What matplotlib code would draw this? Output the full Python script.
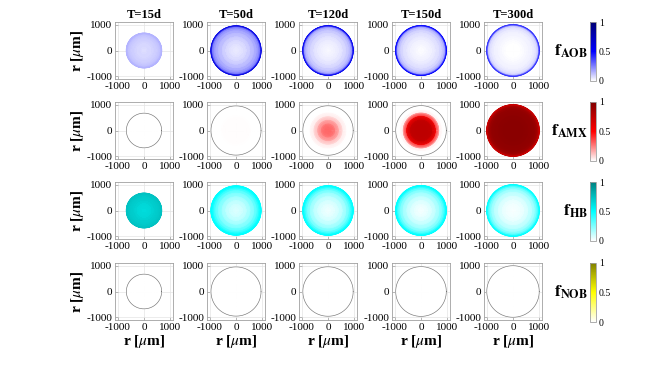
import matplotlib
matplotlib.use("Agg")
import matplotlib.pyplot as plt
from matplotlib.colors import LinearSegmentedColormap
import numpy as np

plt.rcParams['font.family'] = ['Liberation Serif', 'DejaVu Serif']
plt.rcParams['mathtext.fontset'] = 'stix'
plt.rcParams['axes.unicode_minus'] = False

# columns: simulation times
times = ["T=15d", "T=50d", "T=120d", "T=150d", "T=300d"]
# biofilm radius (um) at each time
radius = [670, 950, 955, 960, 995]
# radial sample nodes as fraction of the biofilm radius
r_frac = [0, 0.15, 0.3, 0.45, 0.6, 0.75, 0.85, 0.92, 0.97, 1.0]

# volume fraction profiles along r_frac, one list per time
f_aob = [
    [0.07, 0.07, 0.08, 0.08, 0.09, 0.10, 0.11, 0.12, 0.13, 0.15],
    [0.04, 0.05, 0.06, 0.08, 0.11, 0.15, 0.18, 0.22, 0.28, 0.60],
    [0.01, 0.02, 0.03, 0.04, 0.06, 0.09, 0.12, 0.16, 0.24, 0.55],
    [0.01, 0.01, 0.02, 0.03, 0.05, 0.07, 0.10, 0.14, 0.21, 0.50],
    [0.00, 0.00, 0.00, 0.01, 0.02, 0.03, 0.05, 0.07, 0.13, 0.42],
]
f_amx = [
    [0, 0, 0, 0, 0, 0, 0, 0, 0, 0],
    [0.005, 0.005, 0.005, 0.004, 0.003, 0.002, 0.001, 0, 0, 0],
    [0.30, 0.29, 0.24, 0.14, 0.04, 0, 0, 0, 0, 0],
    [0.76, 0.76, 0.75, 0.72, 0.48, 0.03, 0, 0, 0, 0],
    [0.96, 0.96, 0.96, 0.95, 0.94, 0.93, 0.91, 0.87, 0.80, 0.70],
]
f_hb = [
    [0.64, 0.64, 0.65, 0.66, 0.68, 0.70, 0.71, 0.72, 0.73, 0.74],
    [0.07, 0.08, 0.10, 0.14, 0.20, 0.28, 0.35, 0.42, 0.48, 0.50],
    [0.03, 0.04, 0.06, 0.09, 0.14, 0.22, 0.30, 0.38, 0.46, 0.50],
    [0.02, 0.03, 0.05, 0.08, 0.13, 0.20, 0.28, 0.36, 0.45, 0.50],
    [0.01, 0.02, 0.03, 0.05, 0.09, 0.15, 0.22, 0.30, 0.40, 0.50],
]
f_nob = [[0] * 10 for _ in range(5)]

species = [r'$\mathbf{f}_{\mathbf{AOB}}$', r'$\mathbf{f}_{\mathbf{AMX}}$',
           r'$\mathbf{f}_{\mathbf{HB}}$', r'$\mathbf{f}_{\mathbf{NOB}}$']
fields = [f_aob, f_amx, f_hb, f_nob]
cmaps = [
    LinearSegmentedColormap.from_list("aob", ["white", (0, 0, 1), (0, 0, 0.45)]),
    LinearSegmentedColormap.from_list("amx", ["white", (1, 0, 0), (0.5, 0, 0)]),
    LinearSegmentedColormap.from_list("hb", ["white", (0, 1, 1), (0, 0.5, 0.5)]),
    LinearSegmentedColormap.from_list("nob", ["white", (1, 1, 0), (0.5, 0.5, 0)]),
]

W, H = 659, 367
fig = plt.figure(figsize=(W / 100, H / 100), dpi=100)

col_x = [115, 207, 299, 392, 484]
row_y = [22, 102, 182, 263]
aw, ah = 58, 57
theta = np.linspace(0, 2 * np.pi, 361)
edge = '#a0a0a0'

for i, (fld, cm, lab) in enumerate(zip(fields, cmaps, species)):
    for j in range(5):
        ax = fig.add_axes([col_x[j] / W, 1 - (row_y[i] + ah) / H, aw / W, ah / H])
        rr = np.array(r_frac) * radius[j]
        X = np.outer(rr, np.cos(theta))
        Y = np.outer(rr, np.sin(theta))
        C = np.repeat(np.array(fld[j], dtype=float)[:, None], len(theta), axis=1)
        ax.pcolormesh(X, Y, C, shading='gouraud', cmap=cm, vmin=0, vmax=1)
        # biofilm boundary
        if fld[j][-1] > 0.1:
            ring, lw = cm(fld[j][-1]), 0.5
        else:
            ring, lw = '0.45', 0.45
        ax.plot(radius[j] * np.cos(theta), radius[j] * np.sin(theta),
                color=ring, lw=lw)
        ax.set_xlim(-1100, 1100)
        ax.set_ylim(-1100, 1100)
        ax.set_xticks([-1000, 0, 1000])
        ax.set_yticks([-1000, 0, 1000])
        ax.set_axisbelow(True)
        ax.grid(True, color='#e4e4e4', lw=0.5)
        ax.tick_params(direction='in', length=2, width=0.5, color=edge,
                       labelsize=8, pad=2)
        for s in ax.spines.values():
            s.set_color(edge)
            s.set_linewidth(0.6)
        if i == 0:
            ax.set_title(times[j], fontsize=9, fontweight='bold', pad=3)
        if j == 0:
            ax.set_ylabel(r'r [$\mu$m]', fontsize=11, fontweight='bold', labelpad=0)
        if i == 3:
            ax.set_xlabel(r'r [$\mu$m]', fontsize=11, fontweight='bold', labelpad=1)

    cax = fig.add_axes([590 / W, 1 - (row_y[i] + 59) / H, 6 / W, 59 / H])
    sm = plt.cm.ScalarMappable(cmap=cm, norm=plt.Normalize(0, 1))
    cb = fig.colorbar(sm, cax=cax, ticks=[0, 0.5, 1])
    cb.ax.set_yticklabels(['0', '0.5', '1'])
    cb.ax.tick_params(labelsize=7, length=0, pad=2)
    cb.outline.set_edgecolor(edge)
    cb.outline.set_linewidth(0.6)
    fig.text(588 / W, 1 - (row_y[i] + 29) / H, lab, fontsize=12.5,
             ha='right', va='center')

fig.savefig("out.png", dpi=100)
